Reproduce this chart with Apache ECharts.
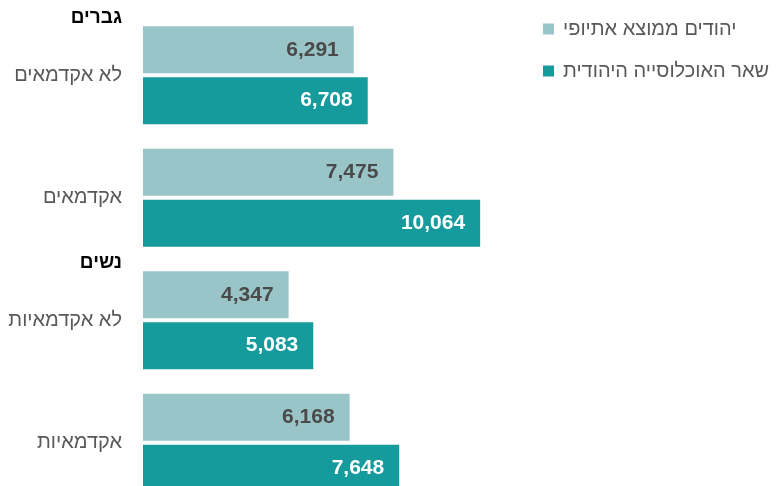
<!DOCTYPE html>
<html>
<head>
<meta charset="utf-8">
<script src="https://cdn.jsdelivr.net/npm/echarts@6/dist/echarts.min.js"></script>
<style>
  html, body { margin: 0; padding: 0; background: #fff; }
  #chart { width: 778px; height: 486px; }
</style>
</head>
<body>
<div id="chart"></div>
<script>
// categories top to bottom
const categories = ["לא אקדמאים", "אקדמאים", "לא אקדמאיות", "אקדמאיות"];
// group headings and the category they sit above
const groupNames = ["גברים", "נשים"];
const groupStart = [0, 2];
const seriesNames = ["יהודים ממוצא אתיופי", "שאר האוכלוסייה היהודית"];
const ethiopian = [6291, 7475, 4347, 6168];
const otherJews = [6708, 10064, 5083, 7648];

const font = "'Liberation Sans', Arial, sans-serif";
const fmt = p => p.value.toLocaleString("en-US");

const chart = echarts.init(document.getElementById("chart"));

chart.setOption({
    animation: false,
    color: ["#9AC5C8", "#169B9C"],
    legend: {
        orient: "vertical",
        left: 538,
        top: 14,
        itemWidth: 11,
        itemHeight: 11,
        itemGap: 22,
        icon: "rect",
        textStyle: { fontFamily: font, fontSize: 20, color: "#595959", padding: [0, 0, 0, 4] },
        data: seriesNames
    },
    // the last bar runs past the bottom edge in the original
    grid: { left: 143, width: 402, top: 14, height: 490, outerBoundsMode: "none" },
    xAxis: {
        type: "value",
        min: 0,
        max: 12000,
        show: false
    },
    yAxis: {
        type: "category",
        inverse: true,
        data: categories,
        axisLine: { show: false },
        axisTick: { show: false },
        axisLabel: { margin: 21, fontFamily: font, fontSize: 20, color: "#595959" }
    },
    series: [
        {
            name: seriesNames[0],
            type: "bar",
            data: ethiopian,
            barWidth: 47,
            barGap: "8%",
            label: {
                show: true, position: "insideRight", distance: 15,
                formatter: fmt, fontFamily: font, fontSize: 21, fontWeight: "bold", color: "#4a4a4a"
            }
        },
        {
            name: seriesNames[1],
            type: "bar",
            data: otherJews,
            barWidth: 47,
            label: {
                show: true, position: "insideRight", distance: 15,
                formatter: fmt, fontFamily: font, fontSize: 21, fontWeight: "bold", color: "#ffffff"
            }
        }
    ]
});

// group headings above their first category
const headings = groupNames.map((name, i) => {
    const y = chart.convertToPixel({ yAxisIndex: 0 }, categories[groupStart[i]]);
    return {
        type: "text",
        right: 778 - 122,
        top: y - 67,
        style: { text: name, font: "bold 19px " + font, fill: "#000", textAlign: "right" }
    };
});
chart.setOption({ graphic: headings });
</script>
</body>
</html>
